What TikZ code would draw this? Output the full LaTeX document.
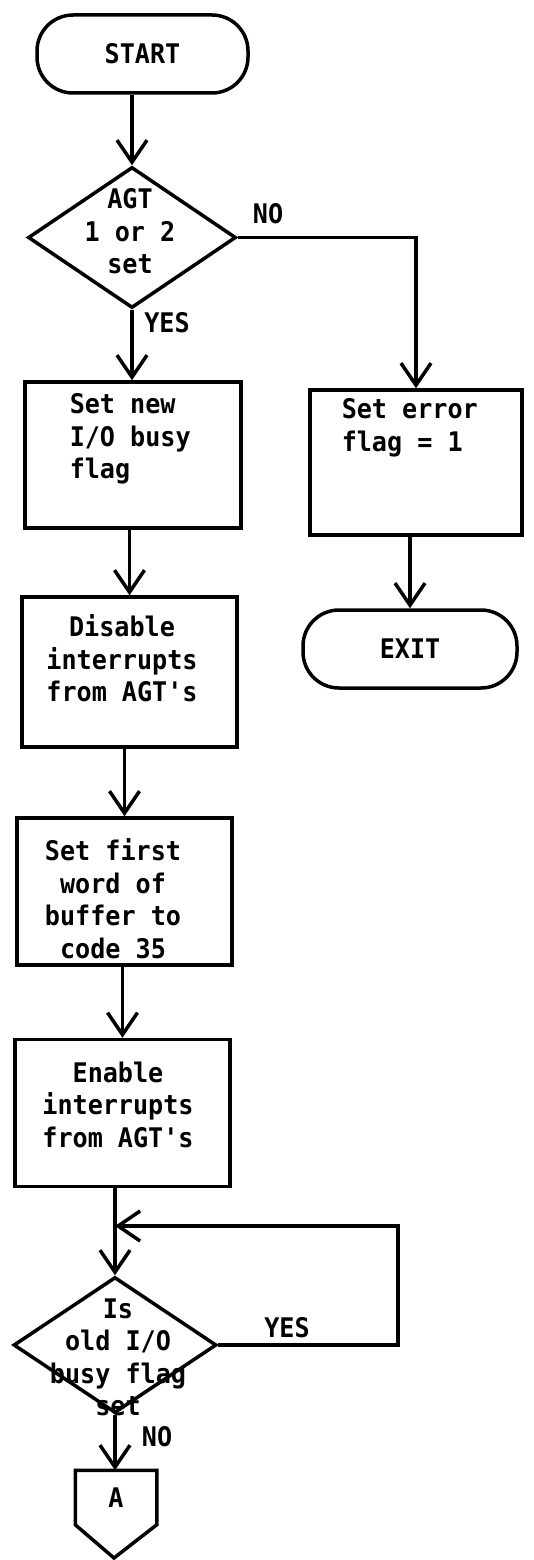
\documentclass[tikz,border=0pt]{standalone}
\usepackage{fontspec}
\setmonofont{DejaVu Sans Mono}[FakeStretch=0.93]
\usetikzlibrary{arrows.meta,shapes.geometric,calc}
\begin{document}
\begin{tikzpicture}[x=1pt,y=-1pt,line width=3.5pt,
  every node/.style={font=\ttfamily\bfseries\fontsize{27}{32.5}\selectfont},
  term/.style={draw,rectangle,rounded corners=36pt,inner sep=0,minimum height=78pt},
  proc/.style={draw,rectangle,inner sep=0},
  dec/.style={draw,diamond,inner sep=0},
  txt/.style={inner sep=0,align=center,anchor=north},
  ltxt/.style={inner sep=0,align=left,anchor=north west},
  lbl/.style={inner sep=0},
  arr/.style={-{Straight Barb[length=22pt,width=30pt]}}]
\fill[white] (0,0) rectangle (534,1560);
\useasboundingbox (0,0) rectangle (534,1560);
% nodes
\node[term,minimum width=211pt] (start) at (142.5,54) {START};
\node[dec,minimum width=208pt,minimum height=141pt] (d1) at (132,237.5) {};
\node[txt] (d1t) at (130,187) {AGT\\1 or 2\\set};
\node[lbl] (no1) at (268,214) {NO};
\node[lbl] (yes1) at (167,323) {YES};
\node[proc,minimum width=216pt,minimum height=146pt] (b1) at (133,455) {};
\node[ltxt] (b1t) at (68,392) {Set new\\I/O busy\\flag};
\node[proc,minimum width=212pt,minimum height=145pt] (err) at (416,462.5) {};
\node[ltxt] (errt) at (340,397) {Set error\\flag = 1};
\node[term,minimum width=214pt] (exit) at (410,649) {EXIT};
\node[proc,minimum width=215pt,minimum height=150pt] (b2) at (129.5,672) {};
\node[txt] (b2t) at (122,613) {Disable\\interrupts\\from AGT's};
\node[proc,minimum width=215pt,minimum height=147pt] (b3) at (124.5,891.5) {};
\node[txt] (b3t) at (113,837) {Set first\\word of\\buffer to\\code 35};
\node[proc,minimum width=215pt,minimum height=147pt] (b4) at (122.5,1113) {};
\node[txt] (b4t) at (118,1060) {Enable\\interrupts\\from AGT's};
\node[dec,minimum width=203pt,minimum height=136pt] (d2) at (115,1345) {};
\node[txt] (d2t) at (118,1297) {Is\\old I/O\\busy flag\\set};
\node[lbl] (yes2) at (287,1328) {YES};
\node[lbl] (no2) at (157,1437) {NO};
\node[inner sep=0,minimum width=78pt,minimum height=51pt] (cA) at (116,1497.5) {A};
\draw (cA.north west) -- (cA.north east) -- (cA.south east) -- (114,1558) -- (cA.south west) -- cycle;
% connectors
\draw[arr] (start.south -| d1.north) -- (d1.north);
\draw[arr] (d1.east) -| (err.north);
\draw[arr] (d1.south) -- (d1.south |- b1.north);
\draw[arr] (err.south -| exit.north) -- (exit.north);
\draw[arr] (b1.south -| b2.north) -- (b2.north);
\draw[arr] (b2.south -| b3.north) -- (b3.north);
\draw[arr] (b3.south -| b4.north) -- (b4.north);
\draw[arr] (b4.south -| d2.north) -- (d2.north);
\coordinate (loopx) at (398,1226);
\coordinate (join) at (d2.north |- loopx);
\draw[arr] (d2.east) -| (loopx) -- (join);
\draw[arr] (d2.south) -- (d2.south |- cA.north);
\end{tikzpicture}
\end{document}
